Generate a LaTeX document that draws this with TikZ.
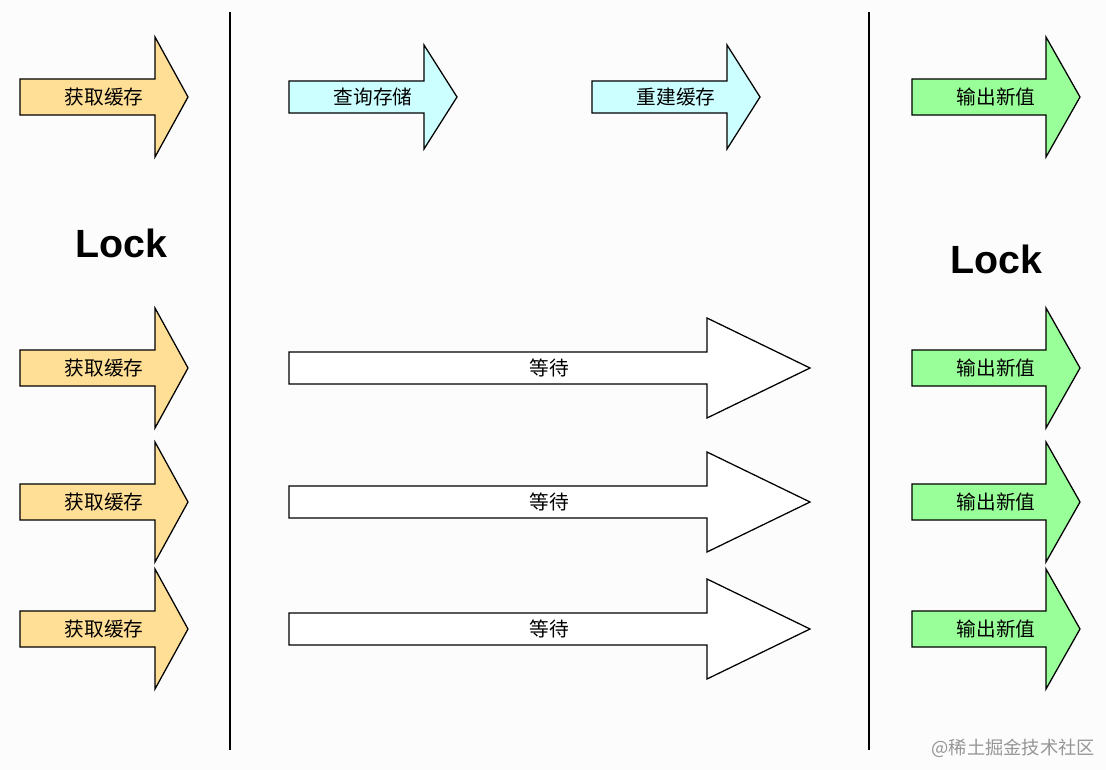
\documentclass[tikz,border=0pt]{standalone}
\usepackage{fontspec}
\setmainfont{Liberation Sans}
\newfontfamily\cjk{Noto Sans CJK SC}
\usetikzlibrary{positioning}
\definecolor{getcache}{RGB}{255,223,150}
\definecolor{storage}{RGB}{204,255,255}
\definecolor{newvalue}{RGB}{153,255,153}
\definecolor{canvas}{RGB}{252,252,253}
\definecolor{watermark}{RGB}{150,150,150}

\tikzset{
  blockline/.style={draw=black, line width=0.9pt, line join=miter},
  lbl/.style={font=\cjk\fontsize{14}{16}\selectfont},
  locktxt/.style={font=\bfseries\fontsize{28}{32}\selectfont},
  divider/.style={line width=2pt}
}

% name, fill, left x, head x, tip x, centre y, body half, head half, text
\newcommand{\blockarrow}[9]{%
  \draw[blockline, fill=#2] (#3,#6-#7) -- (#4,#6-#7) -- (#4,#6-#8) -- (#5,#6)
    -- (#4,#6+#8) -- (#4,#6+#7) -- (#3,#6+#7) -- cycle;
  \node[lbl] (#1) at ({(#3+#5)/2},#6) {#9};}

\begin{document}
\begin{tikzpicture}[x=0.025cm, y=-0.025cm]
        \fill[canvas] (0,0) rectangle (1106,770);
        \useasboundingbox (0,0) rectangle (1106,770);

        % lock phases
        \draw[divider] (230,12) -- (230,750);
        \draw[divider] (869,12) -- (869,750);
        \node[locktxt] (lockA) at (121,243) {Lock};
        \node[locktxt] (lockB) at (996,259) {Lock};

        % every request gets the cache, then outputs the new value
        \foreach \y/\i in {97/1, 368/2, 502/3, 629/4} {
            \blockarrow{get\i}{getcache}{20}{155}{188}{\y}{18}{60}{获取缓存}
            \blockarrow{out\i}{newvalue}{912}{1046}{1080}{\y}{18}{60}{输出新值}
        }

        % first request rebuilds
        \blockarrow{query}{storage}{289}{424}{457}{97}{16}{52}{查询存储}
        \blockarrow{rebuild}{storage}{592}{727}{760}{97}{16}{52}{重建缓存}

        % the others wait
        \foreach \y/\i in {368/2, 502/3, 629/4} {
            \blockarrow{wait\i}{white}{289}{707}{810}{\y}{16}{50}{等待}
        }

        \node[font=\cjk\fontsize{13}{15}\selectfont, text=watermark, anchor=east] (mark) at (1100,748) {@稀土掘金技术社区};
    \end{tikzpicture}
\end{document}
